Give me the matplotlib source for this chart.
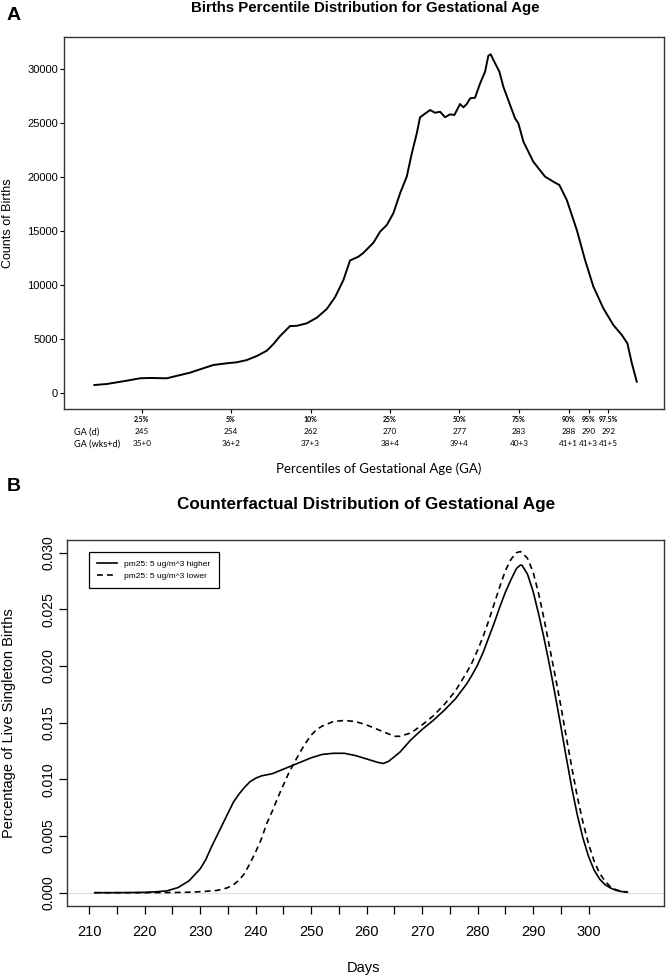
"""Births percentile distribution and counterfactual distribution of gestational age."""

import numpy as np
from matplotlib import pyplot as plt
from matplotlib import transforms
from matplotlib import font_manager

plt.rcParams['font.family'] = ['Liberation Sans', 'DejaVu Sans']

# panel A: counts of births along gestational age (days)
ga_days_a = [240.23, 241.47, 243.49, 244.83, 245.84, 247.52, 248.86, 249.87, 250.87, 252.21,
             253.56, 254.57, 255.58, 256.58, 257.59, 258.26, 258.93, 259.94, 260.61, 261.62,
             262.63, 263.63, 264.47, 265.31, 265.98, 266.82, 267.32, 268.33, 269.00, 269.68,
             270.34, 271.02, 271.69, 272.20, 272.70, 273.03, 274.04, 274.54, 275.05, 275.55,
             276.05, 276.49, 277.06, 277.40, 277.74, 278.07, 278.57, 279.08, 279.58, 279.91,
             280.15, 280.42, 281.02, 281.42, 282.10, 282.60, 282.93, 283.44, 284.44, 285.62,
             286.63, 287.06, 287.81, 288.82, 289.65, 290.49, 291.49, 292.50, 293.35, 293.91,
             294.36, 294.86]
birth_counts = [770, 860, 1170, 1390, 1420, 1390, 1690, 1910, 2220, 2620,
                2780, 2870, 3080, 3450, 3940, 4560, 5300, 6230, 6250, 6480,
                7000, 7800, 8900, 10490, 12300, 12650, 13000, 13940, 14960, 15580,
                16670, 18520, 20060, 22220, 24070, 25560, 26230, 25980, 26070, 25560,
                25830, 25770, 26790, 26480, 26790, 27310, 27370, 28700, 29780, 31260,
                31390, 30860, 29780, 28390, 26690, 25460, 25000, 23300, 21440, 20060,
                19500, 19290, 17900, 15120, 12340, 9870, 7870, 6320, 5400, 4630,
                2780, 1070]

percentile_labels = ['2.5%', '5%', '10%', '25%', '50%', '75%', '90%', '95%', '97.5%']
percentile_days = [245, 254, 262, 270, 277, 283, 288, 290, 292]
percentile_wks = ['35+0', '36+2', '37+3', '38+4', '39+4', '40+3', '41+1', '41+3', '41+5']

# panel B: counterfactual densities
days_higher = [211, 214, 217, 220, 222, 224, 226, 228, 230, 231, 232, 233, 234, 235, 236, 237,
               238, 239, 240, 241, 242, 243, 244, 245, 246, 247, 248, 249, 250, 252, 254, 256,
               258, 260, 262, 263, 264, 265, 266, 268, 270, 272, 274, 276, 278, 279, 280, 281,
               282, 283, 284, 285, 286, 287, 287.7, 288, 289, 290, 291, 292, 293, 294, 295, 296,
               297, 298, 299, 300, 301, 302, 303, 304, 305, 306, 307]
dens_higher = [0.0, 0.0, 0.00001, 0.00003, 0.00008, 0.00016, 0.00045, 0.00105, 0.0021, 0.0029,
               0.0040, 0.0050, 0.0060, 0.0070, 0.0080, 0.0087, 0.0093, 0.0098, 0.0101, 0.0103,
               0.0104, 0.0105, 0.0107, 0.0109, 0.0111, 0.0113, 0.0115, 0.0117, 0.0119, 0.0122,
               0.0123, 0.0123, 0.0121, 0.0118, 0.0115, 0.0114, 0.0116, 0.0120, 0.0124, 0.0135,
               0.0144, 0.0152, 0.0161, 0.0171, 0.0184, 0.0192, 0.0201, 0.0212, 0.0225, 0.0238,
               0.0252, 0.0265, 0.0276, 0.0286, 0.0289, 0.0289, 0.0281, 0.0266, 0.0246, 0.0224,
               0.0200, 0.0174, 0.0147, 0.0119, 0.0092, 0.0068, 0.0048, 0.0032, 0.0020, 0.0012,
               0.0007, 0.0004, 0.0002, 0.0001, 0.00005]

days_lower = [211, 220, 224, 227, 229, 231, 233, 234, 235, 236, 237, 238, 239, 240, 241, 242,
              243, 244, 245, 246, 247, 248, 249, 250, 251, 252, 253, 254, 256, 258, 260, 262,
              264, 265, 266, 268, 270, 272, 274, 276, 277, 278, 279, 280, 281, 282, 283, 284,
              285, 286, 287, 287.7, 288, 289, 290, 291, 292, 293, 294, 295, 296, 297, 298, 299,
              300, 301, 302, 303, 304, 305, 306, 307]
dens_lower = [0.0, 0.0, 0.00001, 0.00003, 0.00006, 0.00012, 0.0002, 0.0003, 0.00045, 0.0007,
              0.0011, 0.0017, 0.0026, 0.0036, 0.0047, 0.0061, 0.0072, 0.0084, 0.0095, 0.0106,
              0.0115, 0.0124, 0.0132, 0.0139, 0.0144, 0.0147, 0.0149, 0.0151, 0.0152, 0.0151,
              0.0148, 0.0144, 0.0140, 0.0138, 0.0138, 0.0141, 0.0148, 0.0156, 0.0166, 0.0178,
              0.0186, 0.0194, 0.0203, 0.0214, 0.0226, 0.0240, 0.0255, 0.0270, 0.0284, 0.0294,
              0.0300, 0.0301, 0.0300, 0.0295, 0.0283, 0.0264, 0.0241, 0.0216, 0.0191, 0.0165,
              0.0137, 0.0110, 0.0084, 0.0062, 0.0043, 0.0028, 0.0017, 0.0010, 0.0005, 0.00025,
              0.00012, 0.00006]

W, H = 666, 977


def fx(x):
    return x / W


def fy(y):
    return 1 - y / H


installed = {f.name for f in font_manager.fontManager.ttflist}
if 'Liberation Sans Narrow' in installed:
    row_font, row_size, head_size = ['Liberation Sans Narrow', 'DejaVu Sans'], 7, 7
else:
    row_font, row_size, head_size = ['Lato', 'DejaVu Sans'], 5.9, 6.6

fig = plt.figure(figsize=(W / 100, H / 100), dpi=100)

# ---------- panel A ----------
axA = fig.add_axes([fx(64.3), fy(409.3), (664 - 64.3) / W, (409.3 - 36.7) / H])
axA.plot(ga_days_a, birth_counts, color='black', lw=1.4)
axA.set_xlim(237.2, 297.6)
axA.set_ylim(-1481, 33019)
axA.set_yticks(np.arange(0, 30001, 5000))
axA.tick_params(axis='y', labelsize=8, length=3, pad=1.5, width=0.8)
axA.set_xticks(percentile_days)
axA.set_xticklabels([])
axA.tick_params(axis='x', length=3, width=0.8)
for sp in axA.spines.values():
    sp.set_linewidth(1.0)
    sp.set_color('#333333')

blendA = transforms.blended_transform_factory(axA.transData, fig.transFigure)
for lab, d, w in zip(percentile_labels, percentile_days, percentile_wks):
    fig.text(d, fy(419), lab, transform=blendA, ha='center', va='center',
             fontsize=5, fontweight='bold', family=['Lato', 'DejaVu Sans'])
    fig.text(d, fy(432), str(d), transform=blendA, ha='center', va='center',
             fontsize=row_size, family=row_font)
    fig.text(d, fy(444), w, transform=blendA, ha='center', va='center',
             fontsize=row_size, family=row_font)
fig.text(fx(74), fy(432), 'GA (d)', ha='left', va='center', fontsize=head_size, family=row_font)
fig.text(fx(74), fy(444), 'GA (wks+d)', ha='left', va='center', fontsize=head_size, family=row_font)
fig.text(fx(379), fy(469), 'Percentiles of Gestational Age (GA)', ha='center', va='center',
         fontsize=9.5, family=['Lato', 'DejaVu Sans'])

fig.text(fx(8), fy(223), 'Counts of Births', rotation=90, ha='center', va='center', fontsize=9)
fig.text(fx(365), fy(12), 'Births Percentile Distribution for Gestational Age', ha='center',
         va='baseline', fontsize=10.8, fontweight='bold')
fig.text(fx(13.5), fy(15), 'A', ha='center', va='center', fontsize=14, fontweight='bold')

# ---------- panel B ----------
axB = fig.add_axes([fx(67), fy(906), (664 - 67) / W, (906 - 540) / H])
axB.axhline(0, color='#dddddd', lw=0.8, zorder=1)
axB.plot(days_higher, dens_higher, color='black', lw=1.2, label='pm25: 5 ug/m^3 higher')
axB.plot(days_lower, dens_lower, color='black', lw=1.2, dashes=(3.5, 2.5), label='pm25: 5 ug/m^3 lower')
axB.set_xlim(206.0, 313.6)
axB.set_ylim(-0.001174, 0.03112)
axB.set_xticks(np.arange(210, 301, 10))
axB.set_xticks(np.arange(215, 300, 10), minor=True)
axB.tick_params(axis='x', which='both', length=5.5, width=0.9, labelsize=10.5, pad=8)
yt = np.arange(0, 0.0301, 0.005)
axB.set_yticks(yt)
axB.set_yticklabels([f'{v:.3f}' for v in yt], rotation=90, va='center')
axB.tick_params(axis='y', length=6, width=0.9, labelsize=10, pad=2)
for sp in axB.spines.values():
    sp.set_linewidth(1.0)
    sp.set_color('#333333')

leg = axB.legend(loc='upper left', bbox_to_anchor=(0.037, 0.967), borderaxespad=0,
                 fontsize=6, handlelength=2.3, handletextpad=0.9, borderpad=1.0,
                 labelspacing=0.45, fancybox=False, edgecolor='black', framealpha=1)
leg.get_frame().set_linewidth(0.9)

fig.text(fx(363), fy(968), 'Days', ha='center', va='center', fontsize=10.5)
fig.text(fx(9), fy(723), 'Percentage of Live Singleton Births', rotation=90, ha='center',
         va='center', fontsize=10.5)
fig.text(fx(366), fy(509.3), 'Counterfactual Distribution of Gestational Age', ha='center',
         va='baseline', fontsize=12.3, fontweight='bold')
fig.text(fx(13.5), fy(487), 'B', ha='center', va='center', fontsize=14, fontweight='bold')

fig.savefig('out.png', dpi=100)
